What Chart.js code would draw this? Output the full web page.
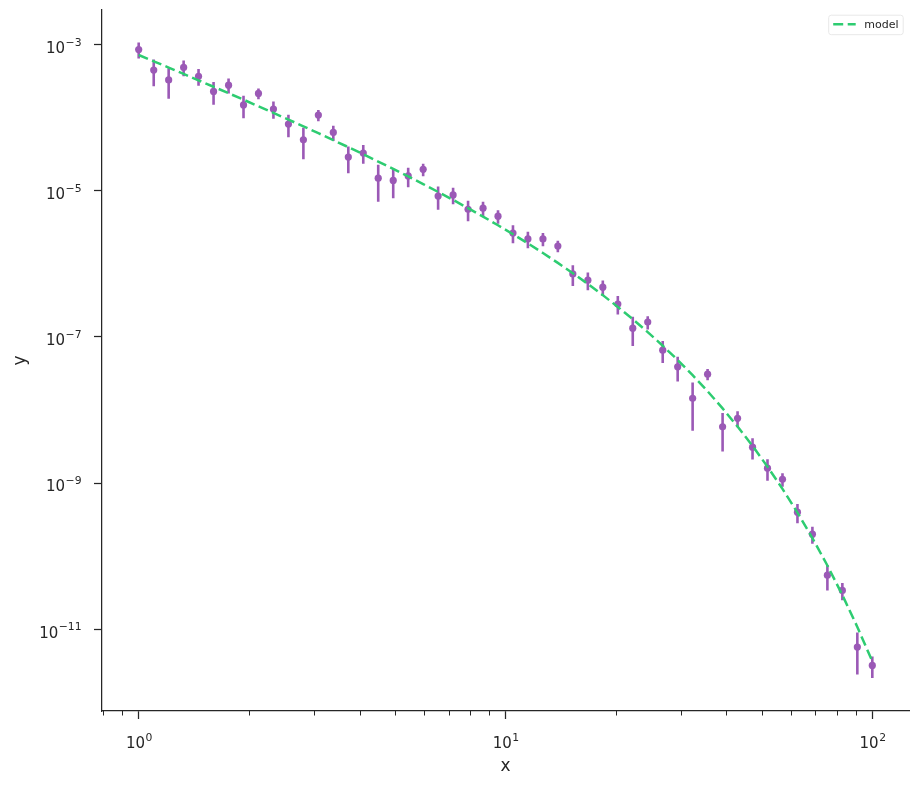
<!DOCTYPE html>
<html><head><meta charset="utf-8">
<script src="https://cdn.jsdelivr.net/npm/chart.js@4.4.0/dist/chart.umd.min.js"></script>
<style>html,body{margin:0;padding:0;background:#fff;} canvas{display:block;}</style>
</head><body>
<canvas id="c" width="918" height="786"></canvas>
<script>
// ---- data ----
const xValues = [1.000, 1.099, 1.207, 1.326, 1.456, 1.600, 1.758, 1.931, 2.121, 2.330,
  2.560, 2.812, 3.089, 3.393, 3.728, 4.095, 4.498, 4.942, 5.429, 5.964,
  6.551, 7.197, 7.906, 8.685, 9.541, 10.48, 11.51, 12.65, 13.89, 15.26,
  16.77, 18.42, 20.24, 22.23, 24.42, 26.83, 29.47, 32.37, 35.56, 39.07,
  42.92, 47.15, 51.79, 56.90, 62.51, 68.66, 75.43, 82.86, 91.03, 100.0];
const yValues = [8.6e-4, 4.5e-4, 3.3e-4, 4.9e-4, 3.7e-4, 2.3e-4, 2.8e-4, 1.5e-4, 2.16e-4, 1.32e-4,
  8.2e-5, 5.0e-5, 1.09e-4, 6.3e-5, 2.9e-5, 3.3e-5, 1.49e-5, 1.39e-5, 1.6e-5, 1.97e-5,
  8.5e-6, 8.8e-6, 5.6e-6, 5.8e-6, 4.5e-6, 2.65e-6, 2.2e-6, 2.2e-6, 1.76e-6, 7.3e-7,
  6.0e-7, 4.8e-7, 2.83e-7, 1.32e-7, 1.6e-7, 6.6e-8, 3.9e-8, 1.45e-8, 3.1e-8, 5.9e-9,
  7.7e-9, 3.1e-9, 1.6e-9, 1.13e-9, 4.0e-10, 2.0e-10, 5.5e-11, 3.4e-11, 5.7e-12, 3.2e-12];
const yErrors = [2.1e-4, 1.8e-4, 1.47e-4, 1.2e-4, 0.95e-4, 0.79e-4, 0.65e-4, 0.51e-4, 0.36e-4, 0.35e-4,
  2.8e-5, 2.3e-5, 1.9e-5, 1.5e-5, 1.16e-5, 0.95e-5, 0.78e-5, 0.6e-5, 0.48e-5, 0.39e-5,
  3.0e-6, 2.25e-6, 1.75e-6, 1.3e-6, 0.95e-6, 0.73e-6, 0.56e-6, 0.45e-6, 0.32e-6, 2.3e-7,
  1.65e-7, 1.15e-7, 0.8e-7, 0.57e-7, 0.33e-7, 2.2e-8, 1.45e-8, 0.93e-8, 0.55e-8, 3.2e-9,
  1.9e-9, 1.0e-9, 0.52e-9, 0.235e-9, 1.18e-10, 0.52e-10, 2.1e-11, 0.9e-11, 3.3e-12, 1.05e-12];
const modelValues = [7.24e-4, 5.94e-4, 4.87e-4, 3.99e-4, 3.26e-4, 2.66e-4, 2.17e-4, 1.77e-4, 1.438e-4, 1.168e-4,
  9.45e-5, 7.64e-5, 6.16e-5, 4.95e-5, 3.97e-5, 3.17e-5, 2.52e-5, 2.00e-5, 1.578e-5, 1.239e-5,
  9.68e-6, 7.52e-6, 5.80e-6, 4.45e-6, 3.38e-6, 2.55e-6, 1.908e-6, 1.412e-6, 1.033e-6, 7.46e-7,
  5.32e-7, 3.74e-7, 2.58e-7, 1.753e-7, 1.167e-7, 7.60e-8, 4.84e-8, 3.00e-8, 1.805e-8, 1.054e-8,
  5.94e-9, 3.23e-9, 1.68e-9, 8.35e-10, 3.95e-10, 1.769e-10, 7.45e-11, 2.94e-11, 1.075e-11, 3.63e-12];
const xTickValues = [0.8, 0.9, 1, 2, 3, 4, 5, 6, 7, 8, 9, 10, 20, 30, 40, 50, 60, 70, 80, 90, 100];
const xMajorTicks = [1, 10, 100];
const xTickExponents = ['0', '1', '2'];
const yTickValues = [1e-3, 1e-5, 1e-7, 1e-9, 1e-11];
const yTickExponents = ['\u22123', '\u22125', '\u22127', '\u22129', '\u221211'];
const tickBase = '10';
const xLimits = [0.7943, 125.9];
const yLimits = [7.6e-13, 2.99e-3];
const seriesLabel = 'model';

// ---- styles ----
const PURPLE = '#9b59b6', GREEN = '#2ecc71', INK = '#262626';
const FONT = 'DejaVu Sans';
const BASE_FONT = '15px "' + FONT + '"', EXP_FONT = '10.8px "' + FONT + '"';

const points = xValues.map((x, i) => ({x, y: yValues[i]}));
const errSegments = [];
xValues.forEach((x, i) => {
  errSegments.push({x, y: yValues[i] - yErrors[i]}, {x, y: yValues[i] + yErrors[i]}, {x, y: null});
});
const modelPoints = xValues.map((x, i) => ({x, y: modelValues[i]}));

const isMajorX = v => xMajorTicks.some(m => Math.abs(m - v) < 1e-9);

function drawPowerLabel(ctx, exp, anchorX, baseline, align) {
  ctx.font = BASE_FONT; const wb = ctx.measureText(tickBase).width;
  ctx.font = EXP_FONT; const we = ctx.measureText(exp).width;
  const gap = 0.5;
  const total = wb + gap + we;
  const x0 = align === 'right' ? anchorX - total : anchorX - total / 2;
  ctx.textAlign = 'left'; ctx.textBaseline = 'alphabetic'; ctx.fillStyle = INK;
  ctx.font = BASE_FONT; ctx.fillText(tickBase, x0, baseline);
  ctx.font = EXP_FONT; ctx.fillText(exp, x0 + wb + gap, baseline - 7.2);
}

const extras = {
  id: 'extras',
  afterDraw(chart) {
    const ctx = chart.ctx, a = chart.chartArea, xs = chart.scales.x, ys = chart.scales.y;
    ctx.save();
    // minor ticks on x
    ctx.strokeStyle = INK; ctx.lineWidth = 1;
    xs.ticks.forEach(t => {
      if (isMajorX(t.value)) return;
      const px = Math.round(xs.getPixelForValue(t.value)) + 0.5;
      ctx.beginPath(); ctx.moveTo(px, a.bottom); ctx.lineTo(px, a.bottom + 4.5); ctx.stroke();
    });
    // tick labels with superscript exponents
    yTickValues.forEach((v, i) => {
      drawPowerLabel(ctx, yTickExponents[i], a.left - 20.5, ys.getPixelForValue(v) + 8.3, 'right');
    });
    xMajorTicks.forEach((v, i) => {
      drawPowerLabel(ctx, xTickExponents[i], xs.getPixelForValue(v) + 0.5, a.bottom + 37.2, 'center');
    });
    // legend box
    const w = 74.5, h = 19.5;
    const x0 = a.right - 6.3 - w, y0 = a.top + 4.7;
    ctx.beginPath();
    ctx.roundRect(x0 + 0.5, y0 + 0.5, w, h, 2.5);
    ctx.fillStyle = 'rgba(255,255,255,0.8)'; ctx.fill();
    ctx.strokeStyle = '#e8e8e8'; ctx.lineWidth = 1; ctx.stroke();
    const ly = y0 + 9.5;
    ctx.beginPath(); ctx.setLineDash([10, 4.5]);
    ctx.strokeStyle = GREEN; ctx.lineWidth = 2.5;
    ctx.moveTo(x0 + 5, ly); ctx.lineTo(x0 + 27.5, ly); ctx.stroke();
    ctx.setLineDash([]);
    ctx.fillStyle = INK; ctx.font = '11px "' + FONT + '"';
    ctx.textAlign = 'left'; ctx.textBaseline = 'middle';
    ctx.fillText(chart.data.datasets[0].label, x0 + 36, ly + 0.5);
    ctx.restore();
  }
};

new Chart(document.getElementById('c'), {
  type: 'scatter',
  data: {
    datasets: [
      {type: 'line', label: seriesLabel, data: modelPoints, borderColor: GREEN, borderWidth: 2.5,
       borderDash: [10, 4.5], pointRadius: 0, fill: false, tension: 0, order: 0},
      {type: 'scatter', label: 'data', data: points, backgroundColor: PURPLE, borderColor: PURPLE,
       borderWidth: 0, pointRadius: 3.6, order: 1},
      {type: 'line', label: 'err', data: errSegments, borderColor: PURPLE, borderWidth: 2.6,
       pointRadius: 0, showLine: true, spanGaps: false, fill: false, borderCapStyle: 'butt', order: 2}
    ]
  },
  options: {
    responsive: false, animation: false,
    layout: {padding: {top: 10, right: 9, left: 0, bottom: 0}},
    plugins: {legend: {display: false}, tooltip: {enabled: false}},
    scales: {
      x: {
        type: 'logarithmic', min: xLimits[0], max: xLimits[1],
        afterBuildTicks: s => { s.ticks = xTickValues.map(v => ({value: v, major: isMajorX(v)})); },
        afterFit: s => { s.height = 75; s.paddingLeft = 0; s.paddingRight = 0; },
        ticks: {display: false, autoSkip: false, maxRotation: 0},
        grid: {display: true, drawOnChartArea: false, drawTicks: true, tickLength: 8, tickWidth: 1.25,
               tickColor: c => (c.tick && isMajorX(c.tick.value)) ? INK : 'rgba(0,0,0,0)'},
        border: {display: true, color: INK, width: 1.25},
        title: {display: true, text: 'x', color: INK, font: {family: FONT, size: 17}, padding: {top: 0, bottom: 9}}
      },
      y: {
        type: 'logarithmic', min: yLimits[0], max: yLimits[1],
        afterBuildTicks: s => { s.ticks = yTickValues.map(v => ({value: v, major: true})); },
        afterFit: s => { s.width = 102; s.paddingTop = 0; s.paddingBottom = 0; },
        ticks: {display: false, autoSkip: false},
        grid: {display: true, drawOnChartArea: false, drawTicks: true, tickLength: 8, tickWidth: 1.25, tickColor: INK},
        border: {display: true, color: INK, width: 1.25},
        title: {display: true, text: 'y', color: INK, font: {family: FONT, size: 17}, padding: {top: 10, bottom: 0}}
      }
    }
  },
  plugins: [extras]
});
</script>
</body></html>
